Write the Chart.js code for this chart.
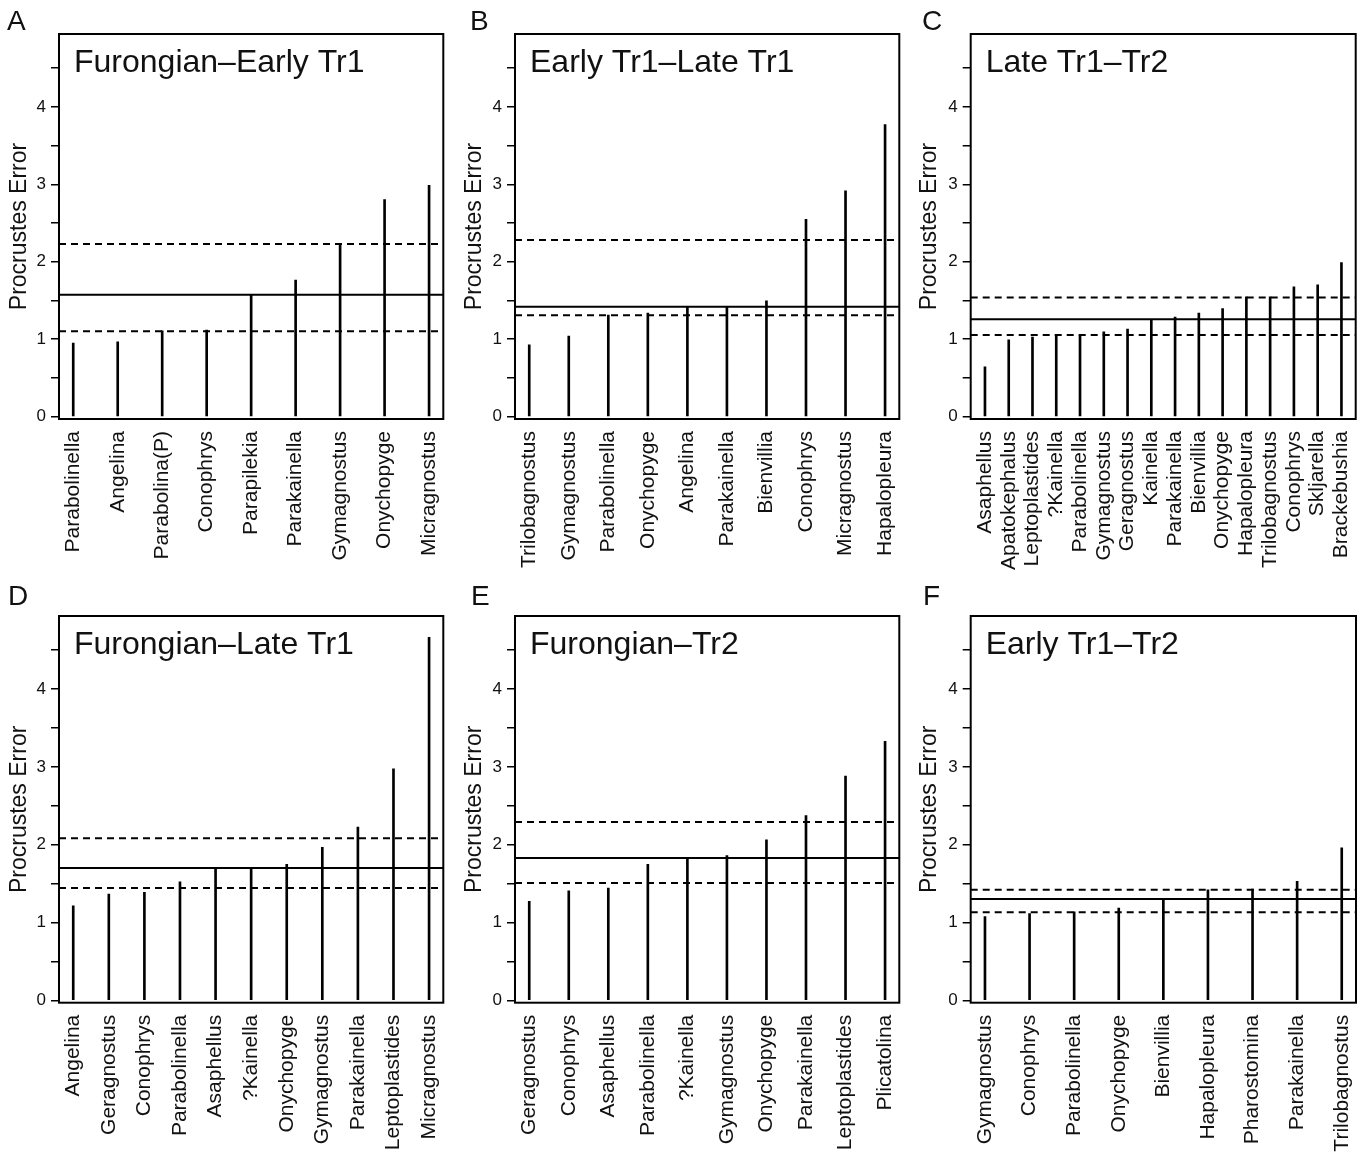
<!DOCTYPE html>
<html><head><meta charset="utf-8">
<script src="https://cdn.jsdelivr.net/npm/chart.js@4.4.0/dist/chart.umd.min.js"></script>
<style>
html,body{margin:0;padding:0;background:#fff;}
#wrap{position:relative;width:1365px;height:1153px;overflow:hidden;}
#wrap canvas{position:absolute;}
</style></head><body><div id="wrap"></div>
<script>
// ---------- DATA ----------
const panelLetters = ['A', 'B', 'C', 'D', 'E', 'F'];
const panelTitles = ['Furongian–Early Tr1', 'Early Tr1–Late Tr1', 'Late Tr1–Tr2',
                     'Furongian–Late Tr1', 'Furongian–Tr2', 'Early Tr1–Tr2'];

const taxaA = ['Parabolinella', 'Angelina', 'Parabolina(P)', 'Conophrys', 'Parapilekia', 'Parakainella', 'Gymagnostus', 'Onychopyge', 'Micragnostus'];
const errorA = [0.95, 0.967, 1.108, 1.117, 1.568, 1.762, 2.234, 2.801, 2.986];

const taxaB = ['Trilobagnostus', 'Gymagnostus', 'Parabolinella', 'Onychopyge', 'Angelina', 'Parakainella', 'Bienvillia', 'Conophrys', 'Micragnostus', 'Hapalopleura'];
const errorB = [0.928, 1.04, 1.31, 1.336, 1.42, 1.42, 1.495, 2.548, 2.917, 3.772];

const taxaC = ['Asaphellus', 'Apatokephalus', 'Leptoplastides', '?Kainella', 'Parabolinella', 'Gymagnostus', 'Geragnostus', 'Kainella', 'Parakainella', 'Bienvillia', 'Onychopyge', 'Hapalopleura', 'Trilobagnostus', 'Conophrys', 'Skljarella', 'Brackebushia'];
const errorC = [0.644, 0.992, 1.027, 1.053, 1.053, 1.096, 1.13, 1.25, 1.285, 1.336, 1.396, 1.547, 1.547, 1.676, 1.701, 1.989];

const taxaD = ['Angelina', 'Geragnostus', 'Conophrys', 'Parabolinella', 'Asaphellus', '?Kainella', 'Onychopyge', 'Gymagnostus', 'Parakainella', 'Leptoplastides', 'Micragnostus'];
const errorD = [1.216, 1.366, 1.388, 1.525, 1.684, 1.684, 1.749, 1.968, 2.226, 2.977, 4.666];

const taxaE = ['Geragnostus', 'Conophrys', 'Asaphellus', 'Parabolinella', '?Kainella', 'Gymagnostus', 'Onychopyge', 'Parakainella', 'Leptoplastides', 'Plicatolina'];
const errorE = [1.272, 1.409, 1.444, 1.749, 1.817, 1.86, 2.062, 2.376, 2.883, 3.33];

const taxaF = ['Gymagnostus', 'Conophrys', 'Parabolinella', 'Onychopyge', 'Bienvillia', 'Hapalopleura', 'Pharostomina', 'Parakainella', 'Trilobagnostus'];
const errorF = [1.078, 1.117, 1.139, 1.186, 1.302, 1.422, 1.431, 1.53, 1.959];

// mean (solid) and lower/upper (dashed) reference levels per panel A..F
const meanLevels  = [1.573, 1.418, 1.259, 1.701, 1.83, 1.302];
const lowerLevels = [1.104, 1.31, 1.053, 1.444, 1.508, 1.134];
const upperLevels = [2.23, 2.281, 1.538, 2.084, 2.294, 1.422];

const yTicks = [0, 0.5, 1, 1.5, 2, 2.5, 3, 3.5, 4, 4.5];
const yTitle = 'Procrustes Error';
const yMin = -0.03, yMax = 4.94;

const allTaxa = [taxaA, taxaB, taxaC, taxaD, taxaE, taxaF];
const allErrors = [errorA, errorB, errorC, errorD, errorE, errorF];

// ---------- LAYOUT (positions / sizes) ----------
const layoutGeo = [
  {left: 0,   top: 0,   w: 455, h: 580, axisW: 59,   padR: 11.7, padT: 34, xH: 161,   lx: 7,  ly: 30},
  {left: 455, top: 0,   w: 455, h: 580, axisW: 60,   padR: 10.7, padT: 34, xH: 161,   lx: 15, ly: 30},
  {left: 910, top: 0,   w: 455, h: 580, axisW: 60.7, padR: 9.3,  padT: 34, xH: 161,   lx: 12, ly: 30},
  {left: 0,   top: 580, w: 455, h: 573, axisW: 59,   padR: 11.7, padT: 36, xH: 150.3, lx: 8,  ly: 25},
  {left: 455, top: 580, w: 455, h: 573, axisW: 60,   padR: 10.7, padT: 36, xH: 150.3, lx: 16, ly: 25},
  {left: 910, top: 580, w: 455, h: 573, axisW: 60.7, padR: 9,    padT: 36, xH: 150.3, lx: 13, ly: 25}
];

const FONT = '"Liberation Sans", Arial, Helvetica, sans-serif';
const INK = '#111';

const decorPlugin = {
  id: 'decor',
  afterDraw(chart, args, opts) {
    const {ctx, chartArea: a} = chart;
    ctx.save();
    ctx.strokeStyle = '#000';
    ctx.lineWidth = 2;
    ctx.strokeRect(a.left, a.top, a.right - a.left, a.bottom - a.top);
    ctx.fillStyle = INK;
    ctx.textBaseline = 'alphabetic';
    ctx.textAlign = 'left';
    ctx.font = '32px ' + FONT;
    ctx.fillText(opts.title, a.left + 15, a.top + 38);
    ctx.font = '28px ' + FONT;
    ctx.fillText(opts.letter, opts.lx, opts.ly);
    ctx.restore();
  }
};

const wrap = document.getElementById('wrap');

allTaxa.forEach((taxa, p) => {
  const g = layoutGeo[p];
  const errs = allErrors[p];
  const n = taxa.length;
  const xMin = 1 - 0.04 * (n - 1);
  const xMax = n + 0.04 * (n - 1);

  const cv = document.createElement('canvas');
  cv.width = g.w; cv.height = g.h;
  cv.style.left = g.left + 'px'; cv.style.top = g.top + 'px';
  cv.style.width = g.w + 'px'; cv.style.height = g.h + 'px';
  wrap.appendChild(cv);

  const hLine = (y, dash) => ({
    type: 'line',
    data: [{x: xMin, y: y}, {x: xMax, y: y}],
    borderColor: '#000',
    borderWidth: 2,
    borderDash: dash,
    pointRadius: 0,
    fill: false,
    tension: 0
  });

  new Chart(cv, {
    type: 'bar',
    data: {
      datasets: [
        {
          type: 'bar',
          data: errs.map((v, i) => ({x: i + 1, y: v})),
          backgroundColor: '#000',
          borderWidth: 0,
          barThickness: 2
        },
        hLine(meanLevels[p], []),
        hLine(lowerLevels[p], [7, 5]),
        hLine(upperLevels[p], [7, 5])
      ]
    },
    options: {
      responsive: false,
      animation: false,
      devicePixelRatio: 1,
      layout: {autoPadding: false, padding: {left: 0, right: g.padR, top: g.padT, bottom: 0}},
      plugins: {
        legend: {display: false},
        tooltip: {enabled: false},
        decor: {title: panelTitles[p], letter: panelLetters[p], lx: g.lx, ly: g.ly}
      },
      scales: {
        x: {
          type: 'linear',
          offset: false,
          min: xMin, max: xMax,
          grid: {display: false, drawTicks: false},
          border: {display: false},
          afterBuildTicks: s => { s.ticks = taxa.map((_, i) => ({value: i + 1})); },
          afterFit: s => { s.height = g.xH; s.paddingLeft = 0; s.paddingRight = 0; },
          ticks: {
            autoSkip: false,
            minRotation: 90, maxRotation: 90,
            padding: 12,
            color: INK,
            font: {family: FONT, size: 21},
            callback: v => taxa[Math.round(v) - 1]
          }
        },
        y: {
          type: 'linear',
          min: yMin, max: yMax,
          border: {display: false},
          grid: {drawOnChartArea: false, drawTicks: true, tickLength: 8, color: '#000', lineWidth: 1.5},
          afterBuildTicks: s => { s.ticks = yTicks.map(v => ({value: v})); },
          afterFit: s => { s.width = g.axisW; s.paddingTop = 0; s.paddingBottom = 0; },
          ticks: {
            padding: 5,
            color: INK,
            font: {family: FONT, size: 17},
            callback: v => Number.isInteger(v) ? String(v) : ''
          },
          title: {
            display: true,
            text: yTitle,
            color: INK,
            font: {family: FONT, size: 23},
            padding: {top: 6, bottom: 0}
          }
        }
      }
    },
    plugins: [decorPlugin]
  });
});
</script>
</body></html>
